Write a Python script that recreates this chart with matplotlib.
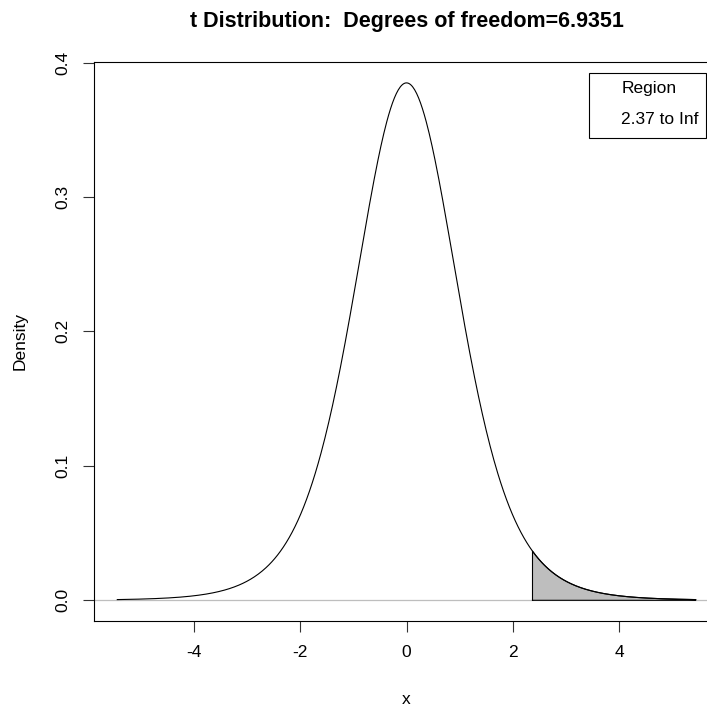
import math
import numpy as np
import matplotlib
matplotlib.use('Agg')
import matplotlib.pyplot as plt
from matplotlib.patches import Rectangle

# t distribution settings (from the chart title / legend)
df_t = 6.9351
x_lo, x_hi = -5.44, 5.44
region_lo = 2.37
x_ticks = [-4, -2, 0, 2, 4]
y_ticks = [0.0, 0.1, 0.2, 0.3, 0.4]
y_tick_labels = ['0.0', '0.1', '0.2', '0.3', '0.4']
title = 't Distribution:  Degrees of freedom=6.9351'
legend_title = 'Region'
legend_label = '2.37 to Inf'


def t_pdf(x, nu):
    c = math.exp(math.lgamma((nu + 1) / 2) - math.lgamma(nu / 2)) / math.sqrt(nu * math.pi)
    return c * (1 + x ** 2 / nu) ** (-(nu + 1) / 2)


xs = np.linspace(x_lo, x_hi, 600)
ys = t_pdf(xs, df_t)
xr = np.linspace(region_lo, x_hi, 300)
yr = t_pdf(xr, df_t)

plt.rcParams['font.family'] = ['Liberation Sans', 'DejaVu Sans']
fs = 12.5

W, H = 707, 709
fig = plt.figure(figsize=(W / 100, H / 100), dpi=100)
# plot region in pixels: left 94, right 719 (cropped), top 62, bottom 621
ax = fig.add_axes([94 / W, 1 - 621 / H, (719 - 94) / W, (621 - 62) / H])

ax.axhline(0, color='#BEBEBE', lw=0.9, zorder=1)
ax.fill(np.r_[xr, region_lo], np.r_[yr, 0], facecolor='#BEBEBE',
        edgecolor='none', zorder=2)
ax.plot(np.r_[region_lo, xr, x_hi, region_lo], np.r_[0, yr, 0, 0],
        color='black', lw=0.8, zorder=3)
ax.plot(xs, ys, color='black', lw=0.8, zorder=4)

ax.set_xlim(-5.878, 5.878)
ax.set_ylim(-0.0154, 0.4004)
ax.set_xticks(x_ticks)
ax.set_xticklabels([str(v) for v in x_ticks])
ax.set_yticks(y_ticks)
ax.set_yticklabels(y_tick_labels, rotation=90, va='center')
ax.tick_params(axis='both', direction='out', length=8, width=0.8,
               labelsize=fs, color='#333333')
ax.tick_params(axis='x', pad=9)
ax.tick_params(axis='y', pad=9)
for s in ax.spines.values():
    s.set_linewidth(0.8)

fig.text((94 + 719) / 2 / W, 1 - 21 / H, title, ha='center', va='center',
         fontsize=15.5, fontweight='bold')
fig.text((94 + 719) / 2 / W, 1 - 699 / H, 'x', ha='center', va='center', fontsize=fs)
fig.text(20 / W, 1 - 341 / H, 'Density', ha='center', va='center',
         rotation=90, fontsize=fs)

# legend box
fig.patches.append(Rectangle((589 / W, 1 - 138 / H), (706 - 589) / W, (138 - 73) / H,
                             transform=fig.transFigure, facecolor='white',
                             edgecolor='black', lw=0.8, zorder=10))
fig.text(649 / W, 1 - 89 / H, legend_title, ha='center', va='center', fontsize=fs, zorder=11)
fig.text(660 / W, 1 - 119 / H, legend_label, ha='center', va='center', fontsize=fs, zorder=11)

fig.savefig('out.png', dpi=100)
